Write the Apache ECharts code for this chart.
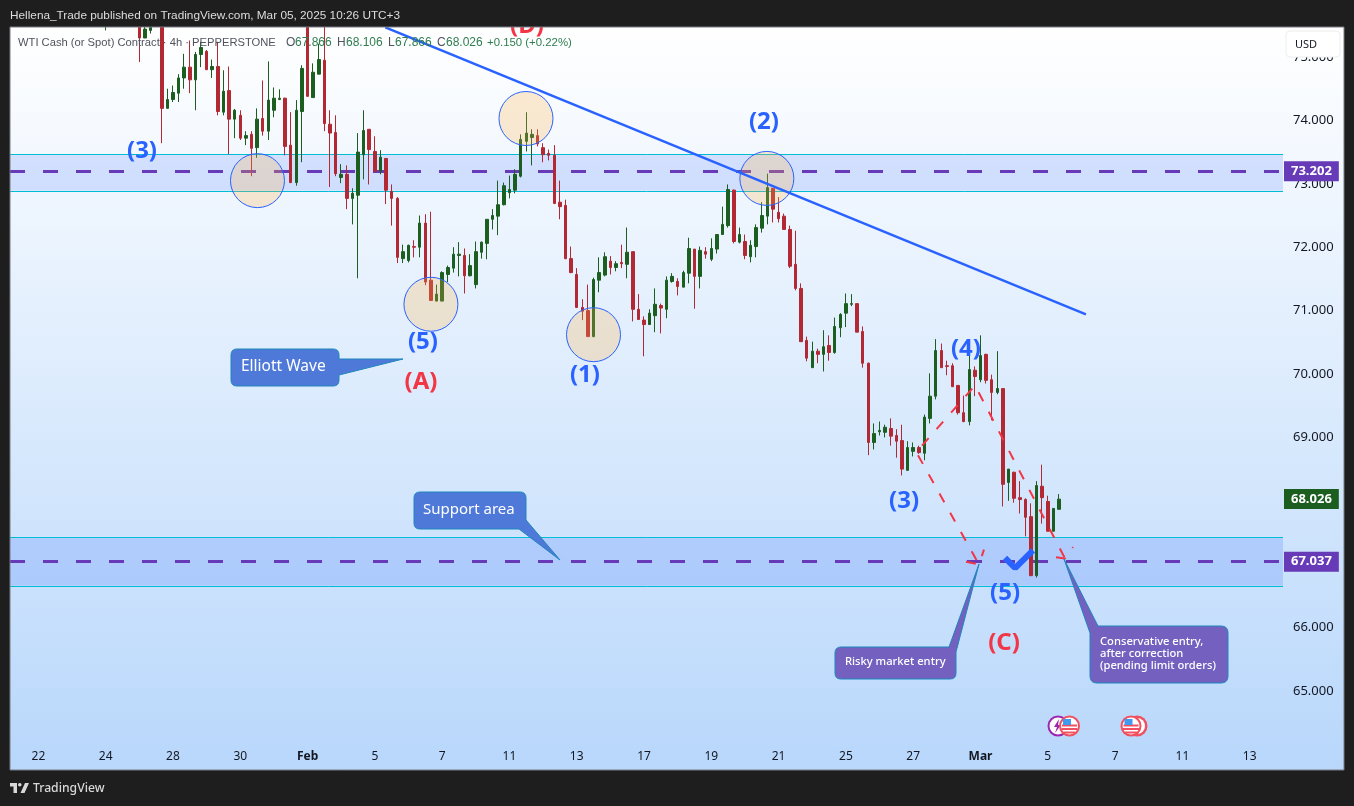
<!DOCTYPE html>
<html><head><meta charset="utf-8">
<style>html,body{margin:0;padding:0;background:#1e1e1e}#c{width:1354px;height:806px}</style>
<script src="https://cdn.jsdelivr.net/npm/echarts@6/dist/echarts.min.js"></script>
</head><body><div id="c"></div>
<script>
const firstIndex = 17;
// [open, close, low, high] per 4h candle
const candles = [
[76.0,76.2,75.42,76.4],[76.2,76.3,76.0,76.5],[76.3,76.4,76.1,76.6],[76.4,76.3,76.1,76.6],[76.3,76.2,76.0,76.5],[76.2,76.1,75.9,76.4],
[75.9,75.30,74.92,76.1],[75.30,75.44,75.30,75.7],[75.42,75.47,75.37,75.6],[75.9,76.1,75.8,76.3],[75.9,74.19,73.64,76.2],
[74.19,74.33,74.19,74.50],[74.33,74.44,74.29,74.55],[74.43,74.67,74.29,74.73],[74.67,74.84,74.50,75.05],[74.84,74.64,74.43,75.26],
[74.64,75.04,74.16,75.08],[75.04,75.15,74.84,75.24],[75.09,74.80,74.80,75.11],[74.80,74.85,74.67,74.96],[74.85,74.14,74.08,75.24],
[74.13,74.46,74.08,74.79],[74.47,74.02,73.47,74.85],[74.02,74.16,73.72,74.18],[74.08,73.72,73.69,74.16],[73.72,73.76,73.61,73.83],
[73.78,73.56,73.12,73.83],[73.57,74.02,73.41,74.19],[74.03,73.83,73.76,74.63],[73.83,74.32,73.69,74.93],[74.16,74.35,74.05,74.52],
[74.33,74.35,74.32,74.49],[74.35,73.59,73.45,74.36],[73.61,73.02,73.01,74.13],[73.02,74.16,72.97,74.32],[74.14,74.82,73.34,74.87],
[75.7,74.38,74.37,76.0],[74.36,74.76,74.36,74.90],[74.73,74.96,74.73,75.21],[74.95,73.95,73.83,75.6],[73.94,73.80,72.95,74.16],
[73.81,73.16,73.12,74.08],[73.10,73.15,73.01,73.31],[73.15,72.77,72.60,73.29],[72.77,72.85,72.36,72.93],[72.82,73.50,71.51,73.80],
[73.46,73.84,73.07,74.16],[73.86,73.54,72.99,73.86],[73.51,73.20,73.18,73.75],[73.20,73.42,73.15,73.53],[73.40,72.90,72.68,73.40],
[72.88,72.77,72.34,72.99],[72.77,71.84,71.75,72.79],[71.82,71.93,71.75,72.04],[71.79,72.03,71.76,72.04],[72.01,72.00,71.84,72.11],
[72.00,72.38,71.84,72.50],[72.38,71.45,71.40,72.52],[71.48,71.16,71.16,72.56],[71.15,71.26,71.15,71.41],[71.15,71.60,71.15,71.62],
[71.57,71.68,71.45,71.71],[71.67,71.89,71.60,72.00],[71.87,71.89,71.54,72.08],[71.87,71.55,71.27,71.98],[71.55,71.71,71.54,71.89],
[71.41,71.93,71.35,72.09],[71.92,72.08,71.82,72.09],[72.06,72.44,71.81,72.44],[72.44,72.50,72.28,72.60],[72.49,72.67,72.19,73.05],
[72.67,72.97,72.66,73.02],[72.86,72.91,72.77,73.13],[72.90,73.15,72.85,73.23],[73.12,73.70,73.10,73.78],[73.67,73.80,73.51,74.13],
[73.73,73.78,73.29,73.86],[73.76,73.63,73.59,73.86],[73.57,73.46,73.34,73.64],[73.48,73.45,73.37,73.54],[73.45,72.69,72.68,73.61],
[72.71,72.64,72.44,73.05],[72.66,71.82,71.81,72.75],[71.82,71.60,71.59,72.01],[71.57,71.05,71.04,71.67],[71.05,70.99,70.85,71.18],
[71.00,70.59,70.59,71.41],[70.59,71.49,70.58,71.52],[71.48,71.60,71.29,71.84],[71.56,71.85,71.54,71.92],[71.78,71.68,71.57,71.86],
[71.68,71.74,71.62,71.78],[71.76,71.74,71.67,72.04],[71.73,71.92,71.51,72.31],[71.93,71.02,70.83,71.93],[71.02,70.86,70.86,71.26],
[70.85,70.78,70.28,70.91],[70.78,70.96,70.78,71.02],[70.92,71.10,70.66,71.35],[71.08,71.04,70.64,71.11],[71.02,71.48,70.88,71.54],
[71.46,71.54,71.44,71.59],[71.46,71.38,71.24,71.51],[71.37,71.60,71.37,71.63],[71.59,71.98,71.43,72.15],[71.97,71.54,71.03,71.97],
[71.54,71.95,71.35,72.01],[71.93,71.89,71.82,72.00],[71.81,71.98,71.78,72.14],[71.97,72.20,71.90,72.20],[72.20,72.36,72.20,72.64],
[72.34,72.91,72.31,72.99],[72.90,72.09,72.06,72.91],[72.08,72.20,72.06,72.31],[72.09,71.87,71.81,72.20],[71.85,72.03,71.76,72.11],
[72.01,72.31,71.84,72.36],[72.30,72.50,72.23,72.71],[72.49,72.94,72.36,73.16],[72.93,72.60,72.39,72.93],[72.55,72.45,72.39,72.79],
[72.49,72.28,72.28,72.53],[72.28,71.70,71.67,72.34],[71.73,71.35,71.32,72.26],[71.35,70.51,70.51,71.43],[70.53,70.25,70.20,70.59],
[70.10,70.36,70.10,70.51],[70.36,70.31,70.17,70.40],[70.31,70.43,70.04,70.69],[70.45,70.34,70.21,70.61],[70.34,70.75,70.32,70.89],
[70.73,70.94,70.58,70.96],[70.96,71.11,70.74,71.27],[71.10,71.11,71.07,71.26],[71.11,70.66,70.66,71.11],[70.67,70.17,70.10,70.75],
[70.17,68.92,68.72,70.18],[68.92,69.06,68.81,69.22],[69.09,69.11,69.03,69.25],[69.08,69.16,69.00,69.20],[69.14,69.02,68.87,69.30],
[69.03,68.94,68.68,69.13],[68.95,68.50,68.40,69.20],[68.48,68.84,68.48,68.94],[68.78,68.84,68.70,68.92],[68.84,68.76,68.74,68.87],
[68.75,69.32,68.64,69.36],[69.30,69.65,69.22,70.01],[69.65,70.37,69.60,70.55],[70.37,70.10,70.10,70.48],[70.13,70.12,69.98,70.21],
[70.13,69.80,69.80,70.17],[69.82,69.39,69.36,69.82],[69.39,69.25,69.24,69.66],[69.25,70.07,69.19,70.32],[70.06,69.96,69.65,70.12],
[69.91,70.29,69.87,70.61],[70.31,69.90,69.85,70.32],[69.91,69.71,69.27,69.99],[69.71,69.77,69.68,70.36],[69.77,68.26,67.91,69.77],
[68.29,68.50,68.00,68.50],[68.45,68.04,67.97,68.46],[68.05,68.02,67.80,68.31],[68.02,67.74,67.44,68.04],[67.75,66.82,66.81,67.96],
[66.82,68.24,66.79,68.31],[68.23,68.05,67.64,68.57],[67.99,67.52,67.52,68.08],[67.52,67.88,67.52,67.88],[67.866,68.026,67.866,68.106]
];
const priceTicks = [65,66,67,68,69,70,71,72,73,74,75];
const timeTicks = [5,17,29,41,53,65,77,89,101,113,125,137,149,161,173,185,197,209,221];
const timeLabels = ['22','24','28','30','Feb','5','7','11','13','17','19','21','25','27','Mar','5','7','11','13'];
const resistanceBand = [72.89,73.47], supportBand = [66.66,67.43];
const resistanceLevel = 73.202, supportLevel = 67.037, lastPrice = 68.026;
const trendLine = [[66.87,75.467],[191.8,70.94]];
const circles = [[44.07,73.05],[75.0,71.10],[91.95,74.03],[103.99,70.62],[134.9,73.085]];
const waveLabels = [['(3)',23.48,73.51,'b'],['(D)',92.13,75.49,'r'],['(5)',73.58,70.50,'b'],['(A)',73.23,69.87,'r'],['(1)',102.47,69.98,'b'],['(2)',134.39,73.97,'b'],['(4)',170.41,70.39,'b'],['(3)',159.36,67.99,'b'],['(5)',177.37,66.54,'b'],['(C)',177.19,65.75,'r']];
const dashA = [[161.85,68.72],[172.73,66.997]];
const headA = [[170.41,67.04],[172.73,66.997],[173.62,67.23]];
const dashB = [[162.57,68.87],[172.02,69.82],[188.07,67.09]];
const headB = [[186.46,67.11],[188.07,67.09],[189.5,67.27]];
const checkMark = [[177.37,67.10],[179.16,66.94],[182.35,67.22]];

const BLUE='#2962ff', RED='#f23645', UP='#1b5e20', DOWN='#b22833', PURPLE='#673ab7', CYAN='#00bcd4', FONT='"Noto Sans",sans-serif', SANS='"Liberation Sans",sans-serif';
const xMin=-0.06, xMax=226.94;
const reg=(n,d)=>echarts.graphic.registerShape(n,echarts.graphic.extendPath(d,{}));
reg('cbElliott','M237 349H333Q339 349 339 355V359L403 359L339 375V380Q339 386 333 386H237Q231 386 231 380V355Q231 349 237 349Z');
reg('cbSupport','M420 492H520Q526 492 526 498V520L560 560L519 529H420Q414 529 414 523V498Q414 492 420 492Z');
reg('cbRisky','M841 647H949L979 564L956 652V673Q956 679 950 679H841Q835 679 835 673V653Q835 647 841 647Z');
reg('cbCons','M1098 626H1221Q1228 626 1228 633V676Q1228 683 1221 683H1097Q1090 683 1090 676V633L1064 559Z');
reg('tvLogo','M0 0H7V10H3.5V3.5H0ZM10.5 10L15 0H19L14.5 10ZM8 1.8a1.8 1.8 0 1 0 3.6 0a1.8 1.8 0 1 0 -3.6 0Z');

const T=(text,x,y,fill,font,extra)=>Object.assign({type:'text',z:60,style:{text,x,y,fill,font:font||('12px '+SANS),textVerticalAlign:'middle'}},extra||{});
const callout=(type,fill)=>({type,x:0,y:0,z:40,style:{fill,stroke:'#1f86bd',lineWidth:1}});
function flag(cx,cy){
  const g=[{type:'circle',z:45,shape:{cx,cy,r:10.5},style:{fill:'#f0505f'}},{type:'circle',z:45,shape:{cx,cy,r:8.5},style:{fill:'#fff'}}];
  [[-1.5,15],[2,16],[5.5,12]].forEach(s=>g.push({type:'rect',z:46,shape:{x:cx-s[1]/2,y:cy+s[0],width:s[1],height:2},style:{fill:'#f0505f'}}));
  g.push({type:'rect',z:47,shape:{x:cx-6.5,y:cy-7,width:8,height:6},style:{fill:'#3f9bef'}});
  return g;
}
const graphics=[
 {type:'rect',z:-10,shape:{x:10,y:27,width:1334,height:743},style:{fill:new echarts.graphic.LinearGradient(0,0,0,1,[{offset:0,color:'#ffffff'},{offset:1,color:'#b8d7fb'}])}},
 {type:'rect',z:50,shape:{x:0,y:0,width:1354,height:27},style:{fill:'#1e1e1e'}},
 {type:'rect',z:51,shape:{x:10,y:27,width:1334,height:743},style:{fill:'none',stroke:'#787b86',lineWidth:1}},
 T('Hellena_Trade published on TradingView.com, Mar 05, 2025 10:26 UTC+3',10,15.5,'#dddddd','11.8px '+SANS),
 T('WTI Cash (or Spot) Contract · 4h · PEPPERSTONE',18,42.5,'#50535e','11.2px '+SANS),
 T('O',286,42.5,'#50535e'),T('67.866',295,42.5,'#2e7d4f'),
 T('H',337,42.5,'#50535e'),T('68.106',346,42.5,'#2e7d4f'),
 T('L',388,42.5,'#50535e'),T('67.866',395,42.5,'#2e7d4f'),
 T('C',437,42.5,'#50535e'),T('68.026',446,42.5,'#2e7d4f'),
 T('+0.150 (+0.22%)',487,42.5,'#2e7d4f','11.4px '+SANS),
 {type:'rect',z:55,shape:{x:1286,y:31,width:54,height:26,r:4},style:{fill:'#fff',stroke:'#eeeeee',lineWidth:1}},
 T('USD',1295,45,'#131722','11px '+FONT),
 callout('cbElliott','#4f79d9'),callout('cbSupport','#4f79d9'),callout('cbRisky','#7360bf'),callout('cbCons','#7360bf'),
 T('Elliott Wave',241,367,'#ffffff','15.5px '+FONT),
 T('Support area',423,510,'#ffffff','15px '+FONT),
 T('Risky market entry',845,662,'#ffffff','500 11.2px '+FONT),
 T('Conservative entry,',1100,642,'#ffffff','500 11.2px '+FONT),
 T('after correction',1100,654,'#ffffff','500 11.2px '+FONT),
 T('(pending limit orders)',1100,666,'#ffffff','500 11.2px '+FONT),
 {type:'circle',z:44,shape:{cx:1058,cy:726,r:9.5},style:{fill:'#fff',stroke:'#9c27b0',lineWidth:2}},
 {type:'polygon',z:44,shape:{points:[[1059,719],[1054,727],[1057,727],[1055,733],[1061,725],[1058,725]]},style:{fill:'#9c27b0'}},
 ...flag(1069.5,726),
 {type:'circle',z:44,shape:{cx:1137,cy:726,r:10.5},style:{fill:'#f0505f'}},
 {type:'circle',z:44,shape:{cx:1137,cy:726,r:8},style:{fill:'#fff'}},
 ...flag(1131,726),
 {type:'tvLogo',x:10,y:783,z:60,style:{fill:'#d8d8d8'}},
 T('TradingView',33,788.5,'#d8d8d8','500 12.2px '+FONT)
];
const chart=echarts.init(document.getElementById('c'),null,{renderer:'canvas'});
const noLine={symbol:'none',silent:true,animation:false};
const redDash={color:RED,width:2,type:[10,12]};
const tag={show:true,position:'end',distance:1,color:'#fff',fontWeight:'bold',fontSize:13,fontFamily:FONT,padding:[4,7,3,7]};
chart.setOption({
 backgroundColor:'#1e1e1e',animation:false,
 grid:{left:10,top:27.4,width:1273,height:718,containLabel:false},
 xAxis:{type:'value',min:xMin,max:xMax,axisLine:{show:false},axisTick:{show:false},
  splitLine:{show:false},
  axisLabel:{customValues:timeTicks,margin:5,color:'#131722',fontFamily:FONT,fontSize:12,hideOverlap:false,
   formatter:v=>{const s=timeLabels[timeTicks.indexOf(v)];return (s==='Feb'||s==='Mar')?'{b|'+s+'}':s;},
   rich:{b:{fontWeight:'bold',fontSize:12,color:'#131722',fontFamily:FONT}}}},
 yAxis:{type:'value',position:'right',min:64.142,max:75.467,axisLine:{show:false},axisTick:{show:false},splitLine:{show:false},
  axisLabel:{customValues:priceTicks,margin:10,padding:[3,0,0,0],color:'#131722',fontFamily:FONT,fontSize:13,formatter:v=>v.toFixed(3)}},
 graphic:graphics,
 series:[
  {type:'candlestick',z:3,barWidth:3,silent:true,data:candles.map((r,k)=>[firstIndex+k,...r]),
   itemStyle:{color:UP,color0:DOWN,borderColor:UP,borderColor0:DOWN,borderWidth:1},
   markArea:{silent:true,z:1,itemStyle:{borderWidth:0},data:[
     [{yAxis:resistanceBand[0],itemStyle:{color:'rgba(41,98,255,0.16)'}},{yAxis:resistanceBand[1]}],
     [{yAxis:supportBand[0],itemStyle:{color:'rgba(41,98,255,0.18)'}},{yAxis:supportBand[1]}]]},
   markLine:{silent:true,symbol:'none',z:2,animation:false,data:[
     ...[resistanceBand[0],resistanceBand[1],supportBand[0],supportBand[1]].map(v=>({yAxis:v,lineStyle:{color:CYAN,width:1,type:'solid'},label:{show:false}})),
     ...[resistanceLevel,supportLevel].map(v=>({yAxis:v,lineStyle:{color:PURPLE,width:3,type:[15,18]},
        label:Object.assign({},tag,{formatter:v.toFixed(3),backgroundColor:PURPLE})})),
     {yAxis:lastPrice,lineStyle:{color:'rgba(0,0,0,0)',width:1},label:Object.assign({},tag,{formatter:lastPrice.toFixed(3),backgroundColor:UP})}
   ]}},
  {type:'scatter',z:5,silent:true,data:circles,symbol:'circle',symbolSize:54,itemStyle:{color:'rgba(255,180,70,0.25)',borderColor:BLUE,borderWidth:1,opacity:1}},
  {type:'line',z:6,...noLine,data:trendLine,lineStyle:{color:BLUE,width:2.5}},
  {type:'line',z:6,...noLine,data:dashA,lineStyle:redDash},
  {type:'line',z:6,...noLine,data:headA,lineStyle:redDash},
  {type:'line',z:6,...noLine,data:dashB,lineStyle:redDash},
  {type:'line',z:6,...noLine,data:headB,lineStyle:redDash},
  {type:'line',z:6,...noLine,data:checkMark,lineStyle:{color:BLUE,width:6}},
  {type:'scatter',z:7,silent:true,clip:false,symbolSize:1,itemStyle:{color:'rgba(0,0,0,0)',opacity:1},
   data:waveLabels.map(w=>({value:[w[1],w[2]],label:{show:true,position:'inside',formatter:w[0],color:w[3]==='r'?RED:BLUE,fontSize:24,fontWeight:'bold',fontFamily:FONT}}))}
 ]
});
</script></body></html>
